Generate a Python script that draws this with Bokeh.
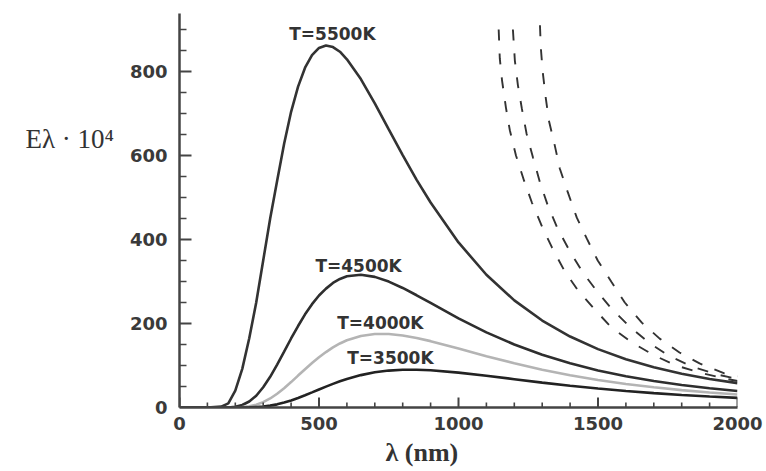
from bokeh.plotting import figure
from bokeh.models import Range1d, Label, ColumnDataSource, Title
from bokeh.embed import file_html
from bokeh.resources import INLINE

# ---- data ----
wavelength = [0, 100, 150, 175, 200, 225, 250, 275, 300, 325, 350, 375, 400, 425, 450, 475, 500, 525,
              550, 575, 600, 650, 700, 750, 800, 850, 900, 1000, 1100, 1200, 1300, 1400, 1500, 1600,
              1700, 1800, 1900, 2000]
E_5500 = [0, 0, 2, 10, 40, 92, 165, 250, 350, 450, 540, 628, 704, 764, 809, 839, 856, 862,
          858, 847, 829, 782, 724, 662, 601, 542, 488, 393, 316, 255, 207, 169, 139, 115,
          96, 80.5, 68, 58]
E_4500 = [0, 0, 0, 0, 1.8, 6, 14.2, 28, 48.2, 73, 102.3, 133, 164.3, 194, 221.8, 246, 266.7, 283,
          296.6, 306, 312.3, 316, 311, 299.8, 284.6, 267.2, 248.9, 212.2, 178.9, 149.9, 125.4, 105.1,
          88.3, 74.5, 63.1, 53.7, 45.9, 39.4]
E_4000 = [0, 0, 0, 0, 0.2, 1, 2.9, 6.8, 12.7, 21.5, 32.7, 46, 60.5, 76, 91.2, 106, 119.8, 132,
          143.2, 152.5, 160.1, 170.3, 174.9, 174.9, 171.5, 165.6, 158.0, 140.4, 122.2, 105.2, 90.0,
          76.9, 65.6, 56.1, 48.1, 41.4, 35.7, 30.9]
E_3500 = [0, 0, 0, 0, 0, 0, 0.4, 1.1, 2.3, 4.4, 7.5, 11.7, 16.8, 22.7, 29.1, 35.9, 42.9, 49.7,
          56.2, 62.3, 67.9, 77.1, 83.8, 87.9, 89.7, 89.9, 88.6, 83.1, 75.6, 67.4, 59.3, 51.9,
          45.3, 39.4, 34.3, 29.9, 26.1, 22.9]

dash_a_x = [1144, 1148, 1156, 1170, 1184, 1206, 1235, 1263, 1300, 1335, 1380, 1428, 1490, 1549,
            1621, 1696, 1775, 1860, 1940, 2000]
dash_a_y = [900, 831, 779, 714, 660, 600, 540, 488, 430, 381, 325, 279, 232, 190,
            155, 126, 101, 84, 71, 63]
dash_b_x = [1195, 1202, 1213, 1227, 1244, 1267, 1292, 1320, 1356, 1399, 1446, 1496, 1549, 1614,
            1685, 1757, 1839, 1925, 2000]
dash_b_y = [900, 826, 767, 712, 652, 595, 536, 481, 425, 372, 321, 277, 235, 192,
            153, 122, 97, 79, 68]
dash_c_x = [1292, 1295, 1302, 1313, 1324, 1345, 1363, 1392, 1424, 1460, 1499, 1549, 1596, 1657,
            1721, 1792, 1864, 1953, 2000]
dash_c_y = [910, 857, 798, 736, 683, 624, 569, 512, 452, 402, 350, 298, 250, 202,
            164, 131, 105, 81, 74]

curve_labels = ["T=5500K", "T=4500K", "T=4000K", "T=3500K"]
label_x = [548, 642, 720, 756]
label_y = [890, 338, 202, 117]

x_ticks = [0, 500, 1000, 1500, 2000]
y_ticks = [0, 200, 400, 600, 800]
x_minor_step = 100
y_minor_step = 50

X_MAX, Y_MAX = 2000, 938

p = figure(width=766, height=471, output_backend="svg", toolbar_location=None,
           x_range=Range1d(0, X_MAX), y_range=Range1d(0, Y_MAX),
           min_border_left=179, min_border_right=29, min_border_top=13, min_border_bottom=64)
p.outline_line_color = None
p.xgrid.visible = False
p.ygrid.visible = False
p.background_fill_color = "white"
p.border_fill_color = "white"

src = ColumnDataSource(dict(x=wavelength, e55=E_5500, e45=E_4500, e40=E_4000, e35=E_3500))
p.line("x", "e55", source=src, line_color="#333333", line_width=2.6)
p.line("x", "e45", source=src, line_color="#2e2e2e", line_width=2.6)
p.line("x", "e40", source=src, line_color="#b4b4b4", line_width=2.6)
p.line("x", "e35", source=src, line_color="#222222", line_width=2.6)

for xs, ys in [(dash_a_x, dash_a_y), (dash_b_x, dash_b_y), (dash_c_x, dash_c_y)]:
    p.line(xs, ys, line_color="#333333", line_width=1.9, line_dash="11 13")

# inward ticks (drawn from the tick lists; lengths in pixels converted to data units)
px_x = 558 / X_MAX   # frame width / x span
px_y = 394 / Y_MAX   # frame height / y span
y_minor = [v for v in range(0, Y_MAX, y_minor_step) if v not in y_ticks]
x_minor = [v for v in range(0, X_MAX + 1, x_minor_step) if v not in x_ticks]
p.segment(x0=[0] * len(y_ticks), y0=y_ticks, x1=[12 / px_x] * len(y_ticks), y1=y_ticks,
          line_color="#444444", line_width=2)
p.segment(x0=[0] * len(y_minor), y0=y_minor, x1=[7 / px_x] * len(y_minor), y1=y_minor,
          line_color="#444444", line_width=1.6)
p.segment(x0=x_ticks, y0=[0] * len(x_ticks), x1=x_ticks, y1=[10 / px_y] * len(x_ticks),
          line_color="#444444", line_width=2)
p.segment(x0=x_minor, y0=[0] * len(x_minor), x1=x_minor, y1=[5 / px_y] * len(x_minor),
          line_color="#444444", line_width=1.6)

for t, lx, ly in zip(curve_labels, label_x, label_y):
    p.add_layout(Label(x=lx, y=ly, text=t, text_align="center", text_baseline="middle",
                       text_font="DejaVu Sans", text_font_style="bold", text_font_size="17px",
                       text_color="#333333"))

p.add_layout(Title(text="λ (nm)", align="left", offset=206, standoff=7,
                   text_font="Liberation Serif", text_font_size="26px", text_font_style="bold",
                   text_color="#333333"), "below")

for ax in (p.xaxis[0], p.yaxis[0]):
    ax.axis_line_color = "#444444"
    ax.axis_line_width = 2.5
    ax.major_tick_in = 0
    ax.major_tick_out = 0
    ax.minor_tick_in = 0
    ax.minor_tick_out = 0
    ax.major_label_text_font = "DejaVu Sans"
    ax.major_label_text_font_style = "bold"
    ax.major_label_text_font_size = "18px"
    ax.major_label_text_color = "#3a3a3a"

p.xaxis.ticker = x_ticks
p.xaxis.major_label_standoff = 9
p.yaxis.ticker = y_ticks
p.yaxis.major_label_standoff = 12

# y axis title, horizontal and placed high (blank lines push it up)
p.yaxis.axis_label = "Eλ · 10⁴" + "\n" * 4
p.yaxis.axis_label_orientation = "horizontal"
p.yaxis.axis_label_standoff = 13
p.yaxis.axis_label_text_font = "Liberation Serif"
p.yaxis.axis_label_text_font_size = "27px"
p.yaxis.axis_label_text_font_style = "normal"
p.yaxis.axis_label_text_color = "#333333"

open("out.html", "w").write(file_html(p, INLINE))
